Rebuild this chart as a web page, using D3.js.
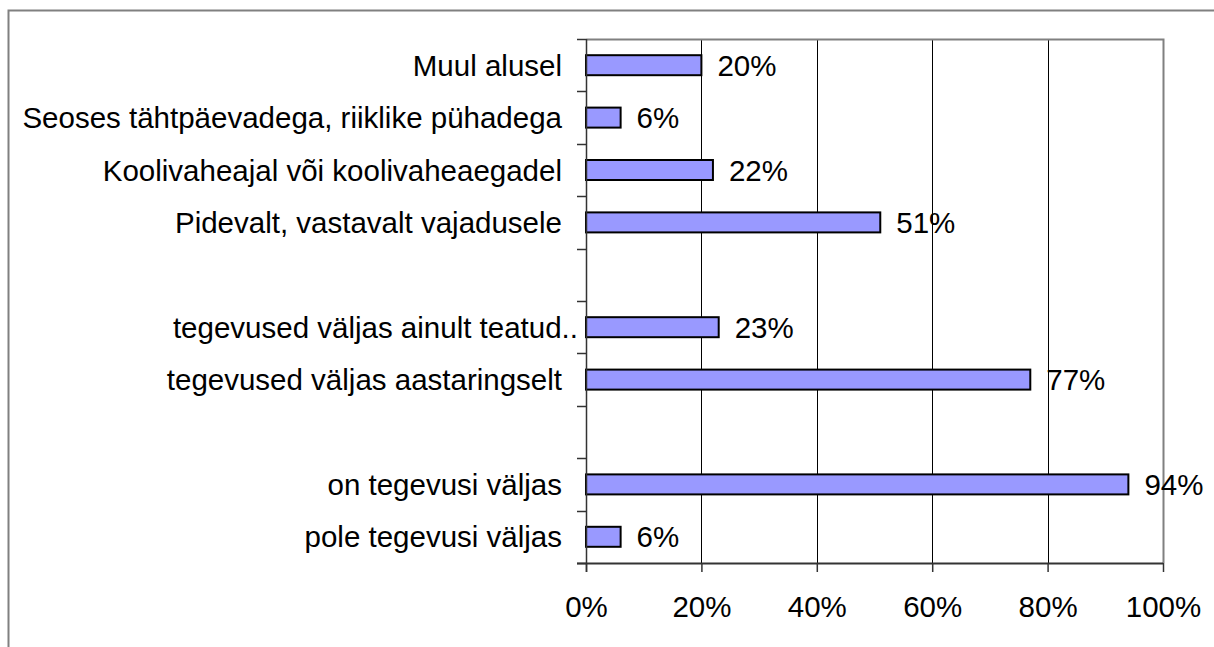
<!DOCTYPE html>
<html>
<head>
<meta charset="utf-8">
<script src="https://cdn.jsdelivr.net/npm/d3@7"></script>
<style>
  html, body { margin: 0; padding: 0; background: #fff; }
  svg { display: block; }
  text { font-family: "Liberation Sans", Arial, sans-serif; fill: #000; }
</style>
</head>
<body>
<svg id="chart" width="1214" height="647"></svg>
<script>
// Category rows from top to bottom; empty strings are spacer rows between groups
const categories = [
  "Muul alusel",
  "Seoses tähtpäevadega, riiklike pühadega",
  "Koolivaheajal või koolivaheaegadel",
  "Pidevalt, vastavalt vajadusele",
  "",
  "tegevused väljas ainult teatud..",
  "tegevused väljas aastaringselt",
  "",
  "on tegevusi väljas",
  "pole tegevusi väljas"
];
const values = [20, 6, 22, 51, null, 23, 77, null, 94, 6];
const xTicks = [0, 20, 40, 60, 80, 100];
const xTickLabels = ["0%", "20%", "40%", "60%", "80%", "100%"];

const FONT_SIZE = 29.5;
const svg = d3.select("#chart");
const plot = { left: 586, right: 1163, top: 39, bottom: 563 };

// Outer chart frame (extends past right and bottom edges of the view)
svg.append("rect")
  .attr("x", 8.5).attr("y", 10.5)
  .attr("width", 1240).attr("height", 680)
  .attr("fill", "none").attr("stroke", "#808080").attr("stroke-width", 2);

const rowKeys = categories.map((c, i) => i);
const y = d3.scaleBand().domain(rowKeys).range([plot.top, plot.bottom]).paddingInner(0).paddingOuter(0);
const x = d3.scaleLinear().domain([0, 100]).range([plot.left, plot.right]);

// Vertical gridlines
svg.append("g")
  .selectAll("line")
  .data(xTicks.filter(t => t > 0 && t < 100))
  .join("line")
  .attr("x1", d => Math.round(x(d)) + 0.5).attr("x2", d => Math.round(x(d)) + 0.5)
  .attr("y1", plot.top).attr("y2", plot.bottom)
  .attr("stroke", "#000").attr("stroke-width", 1);

// Plot area border (top and right)
svg.append("path")
  .attr("d", `M${plot.left},${plot.top + 0.5}H${plot.right + 0.5}V${plot.bottom}`)
  .attr("fill", "none").attr("stroke", "#808080").attr("stroke-width", 2);

// Bars
const barH = 20;
const rows = categories.map((c, i) => ({ i, label: c, v: values[i] }));
svg.append("g")
  .selectAll("rect")
  .data(rows.filter(d => d.v !== null))
  .join("rect")
  .attr("x", x(0))
  .attr("y", d => y(d.i) + y.bandwidth() / 2 - barH / 2)
  .attr("width", d => x(d.v) - x(0))
  .attr("height", barH)
  .attr("fill", "#9999FF")
  .attr("stroke", "#000").attr("stroke-width", 2);

// Value labels
svg.append("g")
  .selectAll("text")
  .data(rows.filter(d => d.v !== null))
  .join("text")
  .attr("x", d => x(d.v) + 16)
  .attr("y", d => y(d.i) + y.bandwidth() / 2 + 10.5)
  .attr("font-size", FONT_SIZE)
  .text(d => d.v + "%");

// Category axis (left) with ticks between rows
const yAxisG = svg.append("g");
yAxisG.append("line")
  .attr("x1", plot.left + 0.5).attr("x2", plot.left + 0.5)
  .attr("y1", plot.top).attr("y2", plot.bottom + 9)
  .attr("stroke", "#333").attr("stroke-width", 1.5);
const boundaries = rowKeys.map(k => y(k)).concat([plot.bottom]);
yAxisG.selectAll("line.tick")
  .data(boundaries)
  .join("line")
  .attr("class", "tick")
  .attr("x1", plot.left - 9).attr("x2", plot.left)
  .attr("y1", d => Math.round(d) + 0.5).attr("y2", d => Math.round(d) + 0.5)
  .attr("stroke", "#333").attr("stroke-width", 1.5);

yAxisG.selectAll("text")
  .data(rows.filter(d => d.label !== ""))
  .join("text")
  .attr("x", d => d.label.endsWith("..") ? plot.left - 8 : plot.left - 24)
  .attr("y", d => y(d.i) + y.bandwidth() / 2 + 10.5)
  .attr("text-anchor", "end")
  .attr("font-size", FONT_SIZE)
  .text(d => d.label);

// Value axis (bottom)
const xAxis = d3.axisBottom(x)
  .tickValues(xTicks)
  .tickFormat((d, i) => xTickLabels[i])
  .tickSize(9)
  .tickPadding(24);
const xAxisG = svg.append("g")
  .attr("transform", `translate(0,${plot.bottom})`)
  .call(xAxis);
xAxisG.select(".domain")
  .attr("d", `M${plot.left - 9},0.5H${plot.right}`)
  .attr("stroke", "#333").attr("stroke-width", 2);
xAxisG.selectAll(".tick line").attr("stroke", "#333").attr("stroke-width", 1.5);
xAxisG.selectAll(".tick text")
  .attr("font-size", FONT_SIZE)
  .attr("font-family", "'Liberation Sans', Arial, sans-serif")
  .attr("fill", "#000");
</script>
</body>
</html>
